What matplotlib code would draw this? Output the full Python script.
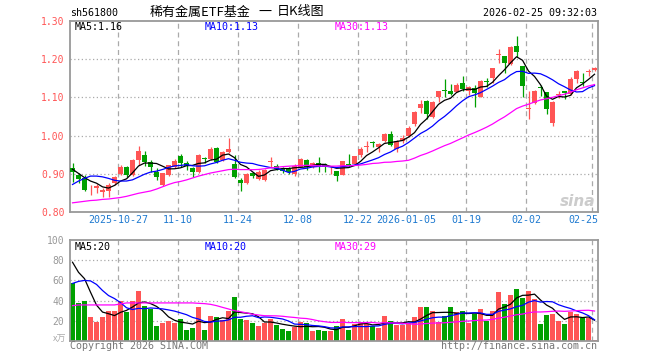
import matplotlib
matplotlib.use('Agg')
import matplotlib.pyplot as plt
from matplotlib.transforms import blended_transform_factory
import numpy as np

# ---------------- data ----------------
opens = [0.914, 0.897, 0.890, 0.859, 0.862, 0.853, 0.855, 0.875, 0.899, 0.918,
         0.897, 0.936, 0.949, 0.930, 0.905, 0.871, 0.897, 0.918, 0.946, 0.929,
         0.914, 0.905, 0.941, 0.938, 0.968, 0.936, 0.958, 0.925, 0.885, 0.877,
         0.901, 0.886, 0.884, 0.930, 0.921, 0.913, 0.913, 0.899, 0.919, 0.936,
         0.919, 0.928, 0.926, 0.909, 0.907, 0.898, 0.925, 0.925, 0.949, 0.969,
         0.982, 0.970, 0.986, 1.005, 0.966, 0.987, 0.998, 1.030, 1.073, 1.091,
         1.048, 1.100, 1.118, 1.117, 1.115, 1.139, 1.118, 1.124, 1.102, 1.142,
         1.150, 1.211, 1.208, 1.187, 1.235, 1.182, 1.069, 1.085, 1.127, 1.113,
         1.032, 1.105, 1.116, 1.109, 1.147, 1.141, 1.166, 1.172]
highs = [0.927, 0.901, 0.896, 0.870, 0.873, 0.862, 0.875, 0.895, 0.923, 0.920,
         0.938, 0.972, 0.959, 0.936, 0.914, 0.903, 0.924, 0.940, 0.951, 0.934,
         0.918, 0.951, 0.945, 0.971, 0.971, 0.960, 0.995, 0.949, 0.888, 0.901,
         0.905, 0.909, 0.912, 0.943, 0.926, 0.917, 0.917, 0.926, 0.941, 0.938,
         0.932, 0.943, 0.929, 0.919, 0.907, 0.934, 0.951, 0.947, 0.970, 0.985,
         0.986, 0.981, 1.008, 1.013, 0.988, 1.002, 1.024, 1.065, 1.092, 1.092,
         1.091, 1.118, 1.148, 1.134, 1.139, 1.156, 1.131, 1.132, 1.145, 1.150,
         1.178, 1.226, 1.208, 1.235, 1.261, 1.182, 1.118, 1.119, 1.132, 1.113,
         1.091, 1.118, 1.117, 1.154, 1.171, 1.165, 1.175, 1.180]
lows = [0.879, 0.877, 0.855, 0.844, 0.851, 0.838, 0.838, 0.870, 0.897, 0.892,
        0.894, 0.923, 0.921, 0.905, 0.883, 0.869, 0.895, 0.914, 0.918, 0.910,
        0.892, 0.903, 0.927, 0.936, 0.927, 0.933, 0.955, 0.888, 0.855, 0.874,
        0.890, 0.884, 0.882, 0.919, 0.910, 0.901, 0.899, 0.895, 0.917, 0.910,
        0.914, 0.906, 0.906, 0.900, 0.882, 0.897, 0.919, 0.923, 0.945, 0.958,
        0.969, 0.958, 0.983, 0.973, 0.956, 0.981, 0.996, 1.026, 1.060, 1.043,
        1.047, 1.088, 1.100, 1.107, 1.113, 1.117, 1.106, 1.076, 1.100, 1.126,
        1.137, 1.190, 1.163, 1.185, 1.207, 1.102, 1.043, 1.084, 1.104, 1.057,
        1.025, 1.098, 1.097, 1.106, 1.139, 1.130, 1.157, 1.170]
closes = [0.905, 0.886, 0.857, 0.861, 0.868, 0.857, 0.870, 0.892, 0.918, 0.897,
          0.936, 0.959, 0.931, 0.917, 0.892, 0.901, 0.923, 0.933, 0.929, 0.920,
          0.905, 0.949, 0.940, 0.966, 0.931, 0.958, 0.964, 0.892, 0.877, 0.899,
          0.894, 0.905, 0.910, 0.933, 0.913, 0.908, 0.904, 0.921, 0.938, 0.919,
          0.928, 0.919, 0.919, 0.911, 0.895, 0.933, 0.923, 0.946, 0.965, 0.972,
          0.980, 0.977, 1.004, 0.976, 0.986, 0.993, 1.021, 1.063, 1.083, 1.057,
          1.089, 1.117, 1.116, 1.110, 1.132, 1.122, 1.128, 1.111, 1.143, 1.140,
          1.176, 1.214, 1.189, 1.233, 1.220, 1.130, 1.073, 1.118, 1.125, 1.070,
          1.089, 1.110, 1.111, 1.147, 1.169, 1.139, 1.170, 1.178]
volumes = [57.7, 38, 39.3, 23.3, 19.3, 23.3, 30, 30, 39.3, 29,
           40, 50, 35, 31.3, 15, 18.3, 20, 18, 22, 11,
           13, 34, 11, 25, 24, 21, 30, 44, 22, 21,
           18, 15, 18, 22, 16, 12, 10, 13.7, 19, 18,
           10, 11, 10, 10, 15, 22, 11, 17.3, 19, 17.3,
           15, 13, 25, 20, 16, 16, 18.3, 24, 34, 34,
           30, 19, 25, 34, 29, 30, 18, 27, 32, 20,
           30, 49, 37, 46, 51, 43, 50, 42, 17, 26,
           27, 20, 17, 29, 27, 23, 23, 1]

# moving-average values before enough bars exist in the window
ma5_head = [0.912, 0.901, 0.890, 0.881]
ma10_head = [0.872, 0.881, 0.888, 0.894, 0.894, 0.892, 0.888, 0.883, 0.881]
ma30_head = [0.824, 0.826, 0.828, 0.830, 0.831, 0.833, 0.834, 0.836, 0.838, 0.841,
             0.845, 0.849, 0.852, 0.855, 0.860, 0.866, 0.872, 0.877, 0.880, 0.884,
             0.889, 0.894, 0.898, 0.902, 0.905, 0.908, 0.911, 0.912, 0.911]
vma5_head = [78, 68, 61.7, 48.3]
vma10_head = [57, 59, 60, 59.5, 56, 50, 45, 42, 38]
vma30_head = [35, 35.7, 35.7, 35.7, 35.7, 35.7, 35.7, 35.7, 36.7, 37.7,
              37.7, 37.7, 37.7, 37.7, 37.7, 37.7, 37.7, 37.7, 37.7, 37.7,
              37.7, 37.3, 37, 36.3, 35, 33.3, 31.7, 30, 29]

date_idx = [8, 18, 28, 38, 48, 56, 66, 76, 87]
date_labels = ['2025-10-27', '11-10', '11-24', '12-08', '12-22', '2026-01-05', '01-19', '02-02', '02-25']
price_ticks = [0.80, 0.90, 1.00, 1.10, 1.20, 1.30]
vol_ticks = [20, 40, 60, 80, 100]

code = 'sh561800'
title_parts = ['稀有金属ETF基金', '一', '日K线图']
stamp = '2026-02-25 09:32:03'
price_legend = ['MA5:1.16', 'MA10:1.13', 'MA30:1.13']
vol_legend = ['MA5:20', 'MA10:20', 'MA30:29']

# ---------------- styling ----------------
RED = '#ff5555'
GREEN = '#00a000'
MA_COLORS = ['#000000', '#0000ff', '#ff00ff']
FRAME = '#999999'
MONO = 'DejaVu Sans Mono'
CJK = ['Noto Sans CJK SC', 'DejaVu Sans']
W, H = 660, 360

def rect(x0, y0, x1, y1):
    return [x0 / W, 1 - y1 / H, (x1 - x0) / W, (y1 - y0) / H]

def moving(vals, k, head):
    out = list(head)
    for i in range(k - 1, len(vals)):
        out.append(float(np.mean(vals[i - k + 1:i + 1])))
    return out

fig = plt.figure(figsize=(W / 100, H / 100), dpi=100)
ax = fig.add_axes(rect(70, 21, 598, 212))
axv = fig.add_axes(rect(70, 240, 598, 341))

n = len(closes)
xs = np.arange(n)
o = np.array(opens); c = np.array(closes); h = np.array(highs); l = np.array(lows)
up = c >= o
cols = [RED if u else GREEN for u in up]
xlim = (-0.42, n - 0.42)

for a in (ax, axv):
    a.set_xlim(*xlim)
    for s in a.spines.values():
        s.set_color(FRAME)
        s.set_linewidth(1.3)
    a.set_xticks([])
    a.tick_params(axis='y', length=0, pad=4)
    for d in date_idx:
        a.axvline(d - 0.42, color='#aaaaaa', lw=0.9, ls=(0, (4, 3)), zorder=0)

# price panel
ax.set_ylim(0.80, 1.30)
for yv in [0.90, 1.00, 1.10, 1.20]:
    ax.axhline(yv, color='#aaaaaa', lw=0.9, ls=(0, (1, 2)), zorder=0)
ax.vlines(xs, l, h, colors=cols, lw=0.9, zorder=2)
body_bottom = np.minimum(o, c)
body_h = np.maximum(np.abs(c - o), 0.0022)
ax.bar(xs, body_h, bottom=body_bottom, width=0.8, color=cols, linewidth=0, zorder=3)
ax.plot(xs, moving(closes, 5, ma5_head), color=MA_COLORS[0], lw=0.9, zorder=4)
ax.plot(xs, moving(closes, 10, ma10_head), color=MA_COLORS[1], lw=0.9, zorder=4)
ax.plot(xs, moving(closes, 30, ma30_head), color=MA_COLORS[2], lw=0.9, zorder=4)
ax.set_yticks(price_ticks)
ax.set_yticklabels(['%.2f' % t for t in price_ticks], family=MONO, fontsize=7, color=RED)

# volume panel
axv.set_ylim(0, 100)
for yv in [20, 40, 60, 80]:
    axv.axhline(yv, color='#aaaaaa', lw=0.9, ls=(0, (1, 2)), zorder=0)
axv.bar(xs, volumes, width=0.8, color=cols, linewidth=0, zorder=2)
axv.plot(xs, moving(volumes, 5, vma5_head), color=MA_COLORS[0], lw=0.9, zorder=4)
axv.plot(xs, moving(volumes, 10, vma10_head), color=MA_COLORS[1], lw=0.9, zorder=4)
axv.plot(xs, moving(volumes, 30, vma30_head), color=MA_COLORS[2], lw=0.9, zorder=4)
axv.set_yticks(vol_ticks)
axv.set_yticklabels([str(t) for t in vol_ticks], family=MONO, fontsize=7, color='#999999')

# date labels
tr = blended_transform_factory(ax.transData, ax.transAxes)
for d, lab in zip(date_idx, date_labels):
    xpos = d - 0.42
    ha = 'center'
    if d == date_idx[-1]:
        ha = 'right'
        xpos = n - 0.42
    ax.text(xpos, -0.042, lab, transform=tr, ha=ha, va='center', family=MONO,
            fontsize=7.2, color='#1f7ad0')

# legends
lx = [75, 205, 335]
for x0, lab, col in zip(lx, price_legend, MA_COLORS):
    fig.text(x0 / W, 1 - 26.5 / H, lab, ha='left', va='center', family=MONO, fontsize=7.2, color=col)
for x0, lab, col in zip(lx, vol_legend, MA_COLORS):
    fig.text(x0 / W, 1 - 246.5 / H, lab, ha='left', va='center', family=MONO, fontsize=7.2, color=col)

# header
fig.text(70 / W, 1 - 13 / H, code, ha='left', va='center', family=MONO, fontsize=7.2, color='black')
for x0, part in zip([150, 258, 277], title_parts):
    fig.text(x0 / W, 1 - 12 / H, part, ha='left', va='center', family=CJK, fontsize=9.4, color='black')
fig.text(597 / W, 1 - 13 / H, stamp, ha='right', va='center', family=MONO, fontsize=7.2, color='black')

# footer
fig.text(66 / W, 1 - 339 / H, 'x万', ha='right', va='center', family=CJK, fontsize=6.5,
         color='#aaaaaa', style='italic')
fig.text(70 / W, 1 - 346 / H, 'Copyright 2026 SINA.COM', ha='left', va='center', family=MONO,
         fontsize=7.2, color='#777777')
fig.text(597 / W, 1 - 346 / H, 'http://finance.sina.com.cn', ha='right', va='center', family=MONO,
         fontsize=7.2, color='#777777')

# watermark
fig.text(578 / W, 1 - 202 / H, 'sina', ha='center', va='center', fontsize=11, fontweight='bold',
         style='italic', color='#cccccc', zorder=0)

fig.savefig('out.png', dpi=100)
